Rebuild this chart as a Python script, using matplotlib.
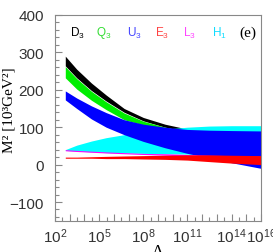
import numpy as np
import matplotlib
matplotlib.use("Agg")
import matplotlib.pyplot as plt
from matplotlib.ticker import FixedLocator, FuncFormatter

plt.rcParams['font.family'] = ['Liberation Sans', 'DejaVu Sans']
plt.rcParams['mathtext.fontset'] = 'custom'
plt.rcParams['mathtext.rm'] = 'Liberation Sans'
plt.rcParams['mathtext.it'] = 'Liberation Sans:italic'

# cutoff scale Lambda (GeV)
lam = [5e2, 3e3, 3e4, 3e5, 5e6, 1e8, 3e9, 1e11, 3e12, 1e14, 1e16]

# bands of M^2 [10^3 GeV^2], upper and lower edges
d3_hi = [290, 255, 218, 186, 150, 126, 108, 95, 82, 70, 55]
d3_lo = [264, 232, 198, 170, 140, 117, 100, 88, 77, 66, 50]
q3_hi = [262, 230, 196, 168, 138, 116, 100, 88, 77, 66, 50]
q3_lo = [232, 202, 172, 147, 120, 106, 96, 88, 80, 70, 55]
h1_hi = [40, 52, 63, 72, 80, 88, 95, 100, 103, 104, 104]
h1_lo = [38, 36, 34, 32, 31, 30, 29, 28, 25, 22, 18]
u3_hi = [197, 178, 157, 139, 120, 108, 100, 94, 92, 91, 90]
u3_lo = [173, 150, 122, 100, 80, 62, 45, 30, 18, 5, -10]
l3_hi = [40, 38, 36, 34, 32, 30, 29, 27, 25, 24, 23]
l3_lo = [37, 35, 33, 31, 29, 27, 25, 23, 21, 20, 19]
e3_hi = [20, 20, 21, 22, 23, 24, 25, 26, 26, 25, 24]
e3_lo = [17, 17, 17, 16, 16, 15, 14, 12, 8, 4, 0]

labels = ['D', 'Q', 'U', 'E', 'L', 'H']
subs = ['3', '3', '3', '3', '3', '1']
label_colors = ['black', '#33dd33', '#4444ff', '#ff4444', '#ff44ff', '#11ddff']

fig = plt.figure(figsize=(2.73, 2.53), dpi=100)
ax = fig.add_axes([0.2015, 0.1237, 0.7545, 0.8131])

ax.fill_between(lam, d3_lo, d3_hi, color='black', lw=0)
ax.fill_between(lam, q3_lo, q3_hi, color='#00ee00', lw=0)
ax.fill_between(lam, h1_lo, h1_hi, color='#00ffff', lw=0)
ax.fill_between(lam, u3_lo, u3_hi, color='#0000ff', lw=0)
ax.fill_between(lam, l3_lo, l3_hi, color='#ff00ff', lw=0)
ax.fill_between(lam, e3_lo, e3_hi, color='#ff0000', lw=0)

ax.set_xscale('log')
ax.set_xlim(1e2, 1e16)
ax.set_ylim(-150, 400)

show = [2, 5, 8, 11, 14, 16]
ax.xaxis.set_major_locator(FixedLocator([10.0 ** k for k in range(2, 17)]))
ax.xaxis.set_minor_locator(FixedLocator([10.0 ** (k + 0.5) for k in range(2, 16)]))
ax.xaxis.set_major_formatter(FuncFormatter(
    lambda v, p: r'$\mathregular{10^{%d}}$' % round(np.log10(v)) if round(np.log10(v)) in show else ''))
ax.xaxis.set_minor_formatter(FuncFormatter(lambda v, p: ''))
ax.set_yticks([-100, 0, 100, 200, 300, 400])
ax.yaxis.set_minor_locator(FixedLocator(np.arange(-140, 400, 20)))

gray = '#888888'
for s in ax.spines.values():
    s.set_color(gray)
ax.tick_params(which='both', direction='in', colors=gray, labelcolor='#333333',
               top=False, right=False, labelsize=11)
ax.tick_params(which='major', length=5, width=0.8)
ax.tick_params(which='minor', length=3, width=0.8)
ax.tick_params(axis='y', pad=8)
ax.tick_params(axis='x', pad=4)

ax.set_ylabel('M² [10³GeV²]', family='Liberation Serif', fontsize=11)
ax.yaxis.set_label_coords(-0.19, 0.54)
ax.set_xlabel('Λ', family='Liberation Serif', fontsize=12, labelpad=-1)

xs = [0.075, 0.2, 0.35, 0.485, 0.62, 0.76]
for x, t, s, c in zip(xs, labels, subs, label_colors):
    ax.text(x, 0.915, r'$\mathregular{%s_{%s}}$' % (t, s), color=c, fontsize=8.5,
            transform=ax.transAxes, va='center', ha='left')
ax.text(0.895, 0.915, '(e)', family='Liberation Serif', fontsize=11,
        transform=ax.transAxes, va='center', ha='left')

fig.savefig('out.png', dpi=100)
